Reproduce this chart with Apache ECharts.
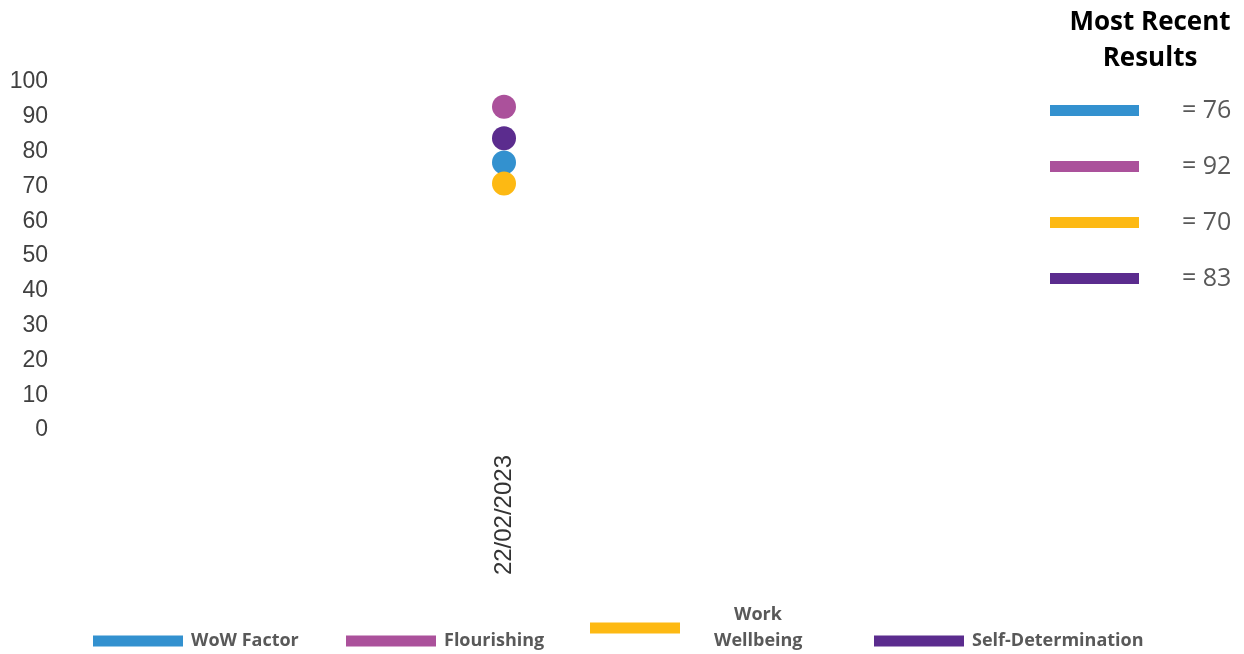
<!DOCTYPE html>
<html>
<head>
<meta charset="utf-8">
<script src="https://cdn.jsdelivr.net/npm/echarts@6/dist/echarts.min.js"></script>
<style>
  html, body { margin: 0; padding: 0; background: #fff; }
  #chart { width: 1244px; height: 654px; }
</style>
</head>
<body>
<div id="chart"></div>
<script>
const categories = ['22/02/2023'];
const seriesNames = ['WoW Factor', 'Flourishing', 'Work\nWellbeing', 'Self-Determination'];
const wowFactor = [76];
const flourishing = [92];
const workWellbeing = [70];
const selfDetermination = [83];
const colors = ['#3391CF', '#AB519B', '#FDB913', '#5B2C8E'];
const yTicks = { min: 0, max: 100, interval: 10 };

const allValues = [wowFactor, flourishing, workWellbeing, selfDetermination];
const latest = {};
seriesNames.forEach((n, i) => { latest[n] = allValues[i][allValues[i].length - 1]; });

const chart = echarts.init(document.getElementById('chart'));

const bottomLegendPos = [
  { left: 93, top: 631 },
  { left: 346, top: 631 },
  { left: 590, top: 602 },
  { left: 874, top: 631 }
];

const bottomLegends = seriesNames.map((n, i) => ({
  data: [n],
  orient: 'horizontal',
  left: bottomLegendPos[i].left,
  top: bottomLegendPos[i].top,
  icon: 'rect',
  itemWidth: 90,
  itemHeight: 11,
  selectedMode: false,
  padding: 0,
  formatter: function (name) {
    if (name.indexOf('\n') >= 0) {
      const parts = name.split('\n');
      return '{a|' + parts[0] + '}\n{b|' + parts[1] + '}';
    }
    return name;
  },
  textStyle: {
    fontFamily: 'Open Sans',
    fontWeight: 'bold',
    fontSize: 18,
    color: '#595959',
    padding: [0, 0, 0, 3],
    lineHeight: 20,
    rich: {
      a: { fontFamily: 'Open Sans', fontWeight: 'bold', fontSize: 18, color: '#595959', lineHeight: 26, padding: [0, 0, 0, 46] },
      b: { fontFamily: 'Open Sans', fontWeight: 'bold', fontSize: 18, color: '#595959', lineHeight: 26, padding: [0, 0, 0, 26] }
    }
  }
}));

const option = {
  animation: false,
  backgroundColor: '#ffffff',
  title: {
    text: 'Most Recent\nResults',
    left: 1145,
    top: 0,
    textAlign: 'center',
    textStyle: {
      fontFamily: 'Open Sans',
      fontWeight: 'bold',
      fontSize: 26,
      lineHeight: 36,
      color: '#000000'
    }
  },
  legend: [
    {
      data: seriesNames,
      orient: 'vertical',
      left: 1050,
      top: 97,
      icon: 'rect',
      itemWidth: 89,
      itemHeight: 11,
      itemGap: 29,
      selectedMode: false,
      padding: 0,
      formatter: function (name) { return '= ' + latest[name]; },
      textStyle: {
        fontFamily: 'Open Sans',
        fontSize: 25,
        lineHeight: 27,
        color: '#595959',
        padding: [0, 0, 0, 38]
      }
    }
  ].concat(bottomLegends),
  grid: {
    left: 60,
    right: 296,
    top: 79,
    height: 348,
    containLabel: false
  },
  xAxis: {
    type: 'category',
    data: categories,
    boundaryGap: true,
    axisLine: { show: false },
    axisTick: { show: false },
    splitLine: { show: false },
    axisLabel: {
      rotate: 90,
      margin: 28,
      fontFamily: 'Liberation Sans',
      fontSize: 24,
      color: '#333333'
    }
  },
  yAxis: {
    type: 'value',
    min: yTicks.min,
    max: yTicks.max,
    interval: yTicks.interval,
    axisLine: { show: false },
    axisTick: { show: false },
    splitLine: { show: false },
    axisLabel: {
      margin: 12,
      fontFamily: 'Liberation Sans',
      fontSize: 23,
      color: '#404040',
      verticalAlign: 'top',
      lineHeight: 6
    }
  },
  series: seriesNames.map((n, i) => ({
    name: n,
    type: 'scatter',
    data: allValues[i],
    symbol: 'circle',
    symbolSize: 24,
    itemStyle: { color: colors[i], opacity: 1 },
    z: [2, 3, 5, 4][i]
  }))
};

chart.setOption(option);
</script>
</body>
</html>
